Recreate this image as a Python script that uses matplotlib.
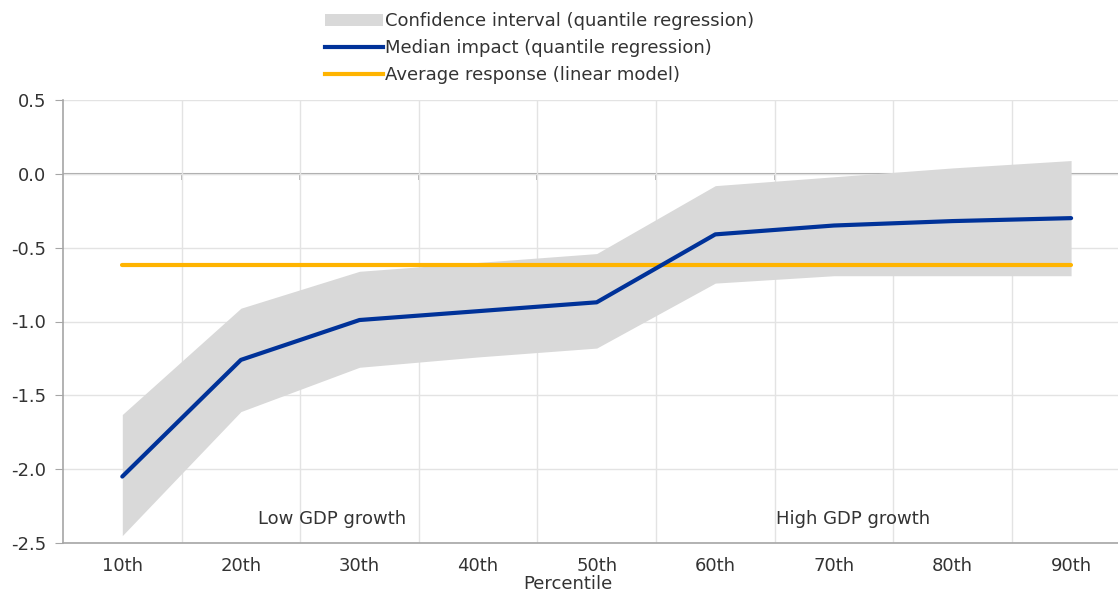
import matplotlib.pyplot as plt
from matplotlib.patches import Patch
from matplotlib.lines import Line2D
import numpy as np

# data
percentiles = ["10th", "20th", "30th", "40th", "50th", "60th", "70th", "80th", "90th"]
median_impact = [-2.05, -1.26, -0.99, -0.93, -0.87, -0.41, -0.35, -0.32, -0.30]
ci_upper = [-1.63, -0.91, -0.66, -0.60, -0.54, -0.08, -0.02, 0.04, 0.09]
ci_lower = [-2.45, -1.61, -1.31, -1.24, -1.18, -0.74, -0.69, -0.69, -0.69]
average_response = [-0.62] * len(percentiles)
y_ticks = [0.5, 0.0, -0.5, -1.0, -1.5, -2.0, -2.5]

grey_band = "#d9d9d9"
blue = "#003299"
orange = "#ffb400"
grid_col = "#e3e3e3"
axis_col = "#a6a6a6"
text_col = "#333333"
fs = 13

plt.rcParams["font.family"] = ["DejaVu Sans"]

fig = plt.figure(figsize=(11.18, 5.91), dpi=100)
ax = fig.add_axes([63 / 1118, 1 - 543 / 591, 1 - 63 / 1118, (543 - 100) / 591])

x = np.arange(len(percentiles))
ax.fill_between(x, ci_lower, ci_upper, color=grey_band, linewidth=0, zorder=2)
ax.plot(x, median_impact, color=blue, linewidth=3, zorder=4, solid_capstyle="round")
ax.plot(x, average_response, color=orange, linewidth=3, zorder=3, solid_capstyle="round")

ax.set_xlim(-0.5, -0.5 + (1118 - 63) / 118.6)
ax.set_ylim(-2.5, 0.5)
ax.set_yticks(y_ticks)
ax.set_yticklabels([f"{v:.1f}" for v in y_ticks])
ax.set_xticks(x)
ax.set_xticklabels(percentiles)
ax.set_xticks(x[:-1] + 0.5, minor=True)

ax.grid(True, axis="y", which="major", color=grid_col, linewidth=1, zorder=0)
ax.grid(True, axis="x", which="minor", color=grid_col, linewidth=1, zorder=0)
ax.grid(False, axis="x", which="major")
ax.axhline(0, color=axis_col, linewidth=1.5, zorder=1)
# small category ticks hanging below the zero line
ax.vlines(x[:-1] + 0.5, -0.04, 0, color=axis_col, linewidth=1.2, zorder=1)

for s in ["top", "right"]:
    ax.spines[s].set_visible(False)
for s in ["left", "bottom"]:
    ax.spines[s].set_color(axis_col)
    ax.spines[s].set_linewidth(1.2)

ax.tick_params(axis="y", length=6, color=axis_col, labelsize=fs, labelcolor=text_col, pad=6)
ax.tick_params(axis="x", which="major", length=0, labelsize=fs, labelcolor=text_col, pad=10)
ax.tick_params(axis="x", which="minor", length=0)

ax.text(1.77, -2.34, "Low GDP growth", ha="center", va="center", fontsize=fs, color=text_col)
ax.text(6.16, -2.34, "High GDP growth", ha="center", va="center", fontsize=fs, color=text_col)
fig.text(568 / 1118, 1 - 584 / 591, "Percentile", ha="center", va="center", fontsize=fs,
         color=text_col)

handles = [
    Patch(facecolor=grey_band, edgecolor="none"),
    Line2D([], [], color=blue, linewidth=3),
    Line2D([], [], color=orange, linewidth=3),
]
labels = [
    "Confidence interval (quantile regression)",
    "Median impact (quantile regression)",
    "Average response (linear model)",
]
fig.legend(handles, labels, loc="upper left", bbox_to_anchor=(318 / 1118, 1 - 5 / 591),
           frameon=False, fontsize=fs, handlelength=3.2, handletextpad=0.1,
           labelspacing=0.5, borderaxespad=0, labelcolor=text_col)

fig.savefig("out.png", dpi=100)
